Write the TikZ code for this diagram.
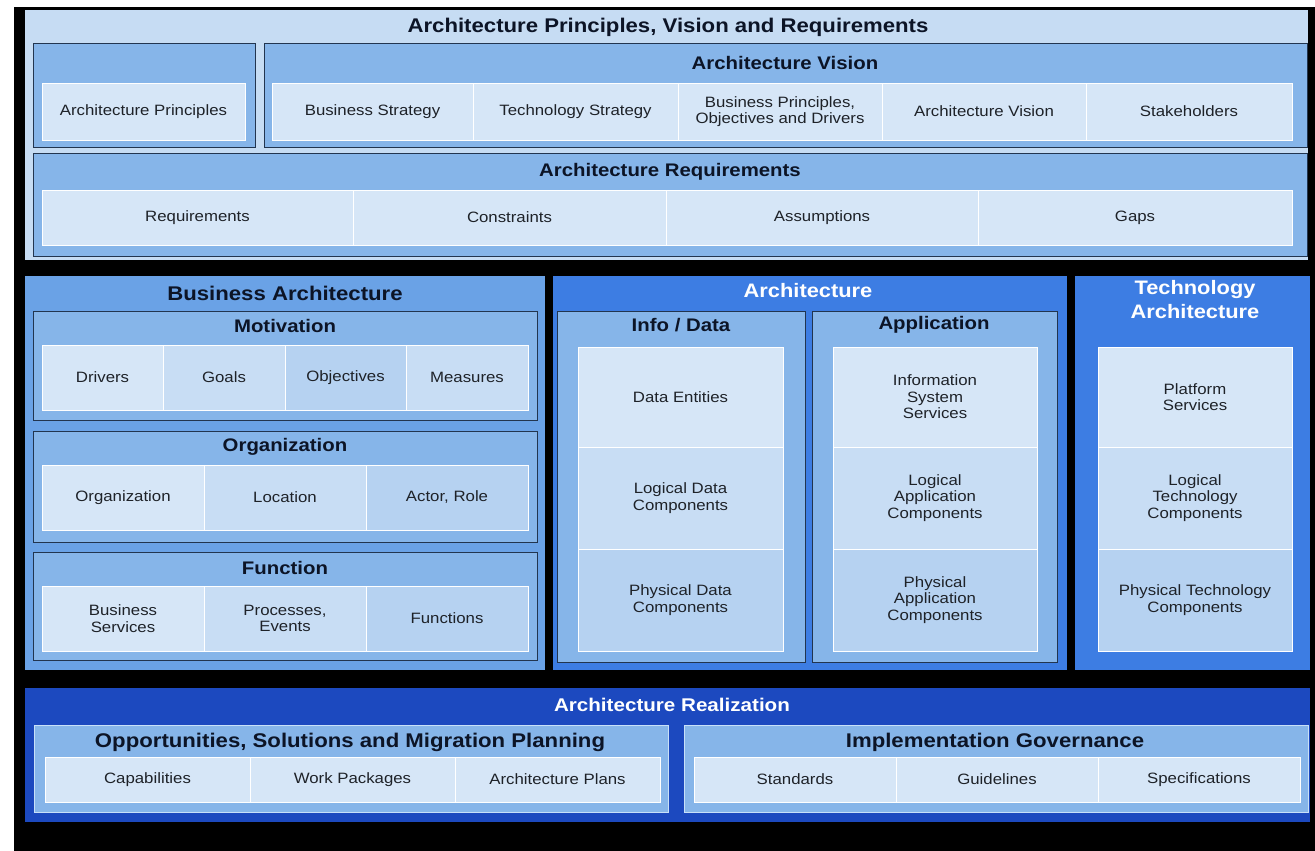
\documentclass[tikz,border=0pt]{standalone}
\usepackage{fontspec}
\setmainfont[FakeStretch=1.12]{Liberation Sans}
\usepackage{tikz}
\usetikzlibrary{positioning}

\definecolor{topbg}{HTML}{C6DCF3}
\definecolor{boxblue}{HTML}{86B5E9}
\definecolor{boxline}{HTML}{22354F}
\definecolor{bizbg}{HTML}{6AA2E6}
\definecolor{archbg}{HTML}{3D7DE3}
\definecolor{realbg}{HTML}{1C49BF}
\definecolor{realline}{HTML}{C8E0F8}
\definecolor{cellA}{HTML}{D6E6F7}
\definecolor{cellB}{HTML}{C8DDF4}
\definecolor{cellC}{HTML}{B6D2F1}
\definecolor{txt}{HTML}{1E2228}
\definecolor{ttl}{HTML}{0C1426}

\begin{document}
\begin{tikzpicture}[x=1pt,y=-1pt]
\tikzstyle{every node}+=[inner sep=0pt]
\tikzstyle{cell}=[draw=white, line width=0.8pt, fill=cellA, align=center, text=txt, font=\fontsize{15}{16.5}\selectfont]
\tikzstyle{box}=[draw=boxline, line width=1pt, fill=boxblue]
\tikzstyle{boxtitle}=[text=ttl, font=\fontsize{18.2}{20}\selectfont\bfseries]
\tikzstyle{paneltitle}=[text=ttl, font=\fontsize{19.8}{22}\selectfont\bfseries]
\tikzstyle{whitetitle}=[text=white, font=\fontsize{19.5}{24}\selectfont\bfseries, align=center]
\useasboundingbox (0,0) rectangle (1315,851);
\fill [white] (0,0) rectangle (1315,851);
\fill [black] (14,7) rectangle (1315,851);
% principles, vision and requirements
\fill [topbg] (25,10) rectangle (1308,260);
\node (pvr) [paneltitle] at (668,27) {Architecture Principles, Vision and Requirements};
\draw [box] (33,44) rectangle (255,147);
\node (princ) [cell, minimum width=203, minimum height=57] at (143.5,111.5) {Architecture Principles};
\draw [box] (264,44) rectangle (1307,147);
\node (vision) [boxtitle] at (785,63) {Architecture Vision};
\node (bstrat) [cell, minimum width=201, minimum height=57] at (372.5,111.5) {Business Strategy};
\node (tstrat) [cell, minimum width=205, minimum height=57] at (575.5,111.5) {Technology Strategy};
\node (bprinc) [cell, minimum width=204, minimum height=57] at (780,111.5) {Business Principles,\\Objectives and Drivers};
\node (avision) [cell, minimum width=204, minimum height=57] at (984,111.5) {Architecture Vision};
\node (stake) [cell, minimum width=206, minimum height=57] at (1189,111.5) {Stakeholders};
\draw [box] (33,153) rectangle (1307,256);
\node (reqs) [boxtitle] at (670,172) {Architecture Requirements};
\node (req) [cell, minimum width=311, minimum height=55] at (197.5,217.5) {Requirements};
\node (constr) [cell, minimum width=313, minimum height=55] at (509.5,217.5) {Constraints};
\node (assum) [cell, minimum width=312, minimum height=55] at (822,217.5) {Assumptions};
\node (gaps) [cell, minimum width=314, minimum height=55] at (1135,217.5) {Gaps};
% business architecture
\fill [bizbg] (25,276) rectangle (545,670);
\node (biz) [paneltitle] at (285,293) {Business Architecture};
\draw [box] (33,311) rectangle (537,420);
\node (motiv) [boxtitle] at (285,326) {Motivation};
\node (drivers) [cell, minimum width=121, minimum height=65] at (102.5,377.5) {Drivers};
\node (goals) [cell, fill=cellB, minimum width=122, minimum height=65] at (224,377.5) {Goals};
\node (objs) [cell, fill=cellC, minimum width=121, minimum height=65] at (345.5,377.5) {Objectives};
\node (meas) [cell, fill=cellB, minimum width=122, minimum height=65] at (467,377.5) {Measures};
\draw [box] (33,431) rectangle (537,542);
\node (orgs) [boxtitle] at (285,447) {Organization};
\node (org) [cell, minimum width=162, minimum height=65] at (123,497.5) {Organization};
\node (loc) [cell, fill=cellB, minimum width=162, minimum height=65] at (285,497.5) {Location};
\node (actor) [cell, fill=cellC, minimum width=162, minimum height=65] at (447,497.5) {Actor, Role};
\draw [box] (33,552) rectangle (537,660);
\node (func) [boxtitle] at (285,568) {Function};
\node (bserv) [cell, minimum width=162, minimum height=65] at (123,618.5) {Business\\Services};
\node (proc) [cell, fill=cellB, minimum width=162, minimum height=65] at (285,618.5) {Processes,\\Events};
\node (funcs) [cell, fill=cellC, minimum width=162, minimum height=65] at (447,618.5) {Functions};
% data and application architecture
\fill [archbg] (553,276) rectangle (1067,670);
\node (arch) [whitetitle] at (808,291) {Architecture};
\draw [box] (557,311) rectangle (805,662);
\node (info) [boxtitle] at (681,325) {Info / Data};
\node (dent) [cell, minimum width=205, minimum height=100] at (680.5,397) {Data Entities};
\node (ldata) [cell, fill=cellB, minimum width=205, minimum height=102] at (680.5,498) {Logical Data\\Components};
\node (pdata) [cell, fill=cellC, minimum width=205, minimum height=102] at (680.5,600) {Physical Data\\Components};
\draw [box] (812,311) rectangle (1057,662);
\node (app) [boxtitle] at (934,325) {Application};
\node (iss) [cell, minimum width=204, minimum height=100] at (935,397) {Information\\System\\Services};
\node (lapp) [cell, fill=cellB, minimum width=204, minimum height=102] at (935,498) {Logical\\Application\\Components};
\node (papp) [cell, fill=cellC, minimum width=204, minimum height=102] at (935,600) {Physical\\Application\\Components};
% technology architecture
\fill [archbg] (1075,276) rectangle (1310,670);
\node (tech) [whitetitle] at (1195,300) {Technology\\Architecture};
\node (plat) [cell, minimum width=194, minimum height=100] at (1195,397) {Platform\\Services};
\node (ltech) [cell, fill=cellB, minimum width=194, minimum height=102] at (1195,498) {Logical\\Technology\\Components};
\node (ptech) [cell, fill=cellC, minimum width=194, minimum height=102] at (1195,600) {Physical Technology\\Components};
% architecture realization
\fill [realbg] (25,688) rectangle (1310,822);
\node (real) [whitetitle, font=\fontsize{18.4}{22}\selectfont\bfseries] at (672,705) {Architecture Realization};
\draw [box, draw=realline] (34,725) rectangle (668,812);
\node (opp) [paneltitle] at (350,742) {Opportunities, Solutions and Migration Planning};
\node (capab) [cell, minimum width=205, minimum height=45] at (147.5,779.5) {Capabilities};
\node (wpack) [cell, minimum width=205, minimum height=45] at (352.5,779.5) {Work Packages};
\node (aplans) [cell, minimum width=205, minimum height=45] at (557.5,779.5) {Architecture Plans};
\draw [box, draw=realline] (684,725) rectangle (1308,812);
\node (impl) [paneltitle] at (995,742) {Implementation Governance};
\node (stds) [cell, minimum width=202, minimum height=45] at (795,779.5) {Standards};
\node (guide) [cell, minimum width=202, minimum height=45] at (997,779.5) {Guidelines};
\node (specs) [cell, minimum width=202, minimum height=45] at (1199,779.5) {Specifications};
\end{tikzpicture}
\end{document}
